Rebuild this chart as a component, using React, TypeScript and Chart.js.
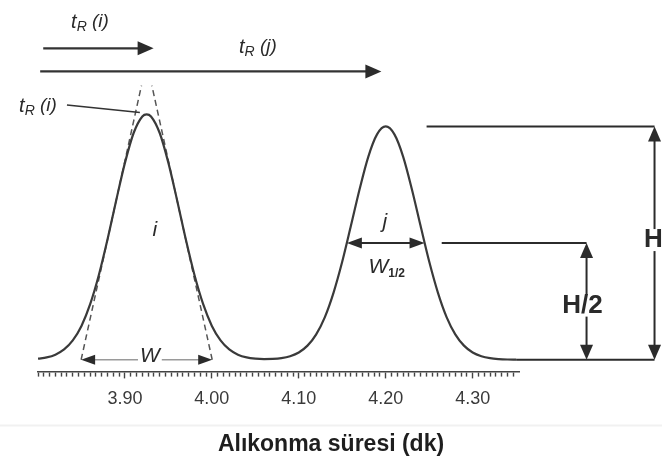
import React, { useEffect, useRef } from 'react';
import { Chart, registerables } from 'chart.js';

Chart.register(...registerables);

const FONT = '"Liberation Sans", Arial, Helvetica, sans-serif';

// Chromatogram (time in min, signal in arbitrary units, peak j = 100)
const TIME = [
  3.80, 3.81, 3.82, 3.83, 3.84, 3.85, 3.86, 3.87, 3.88, 3.89, 3.90, 3.91, 3.92, 3.925, 3.93,
  3.94, 3.95, 3.96, 3.97, 3.98, 3.99, 4.00, 4.01, 4.02, 4.03, 4.04, 4.05, 4.06, 4.07, 4.08,
  4.09, 4.10, 4.11, 4.12, 4.13, 4.14, 4.15, 4.16, 4.17, 4.18, 4.19, 4.20, 4.21, 4.22, 4.23,
  4.24, 4.25, 4.26, 4.27, 4.28, 4.29, 4.30, 4.31, 4.32, 4.33, 4.34, 4.35,
];
const SIGNAL = [
  0.43, 1.0, 2.18, 4.4, 8.28, 14.5, 23.8, 36.3, 51.6, 68.4, 84.4, 97.2, 104.3, 105.2, 104.3,
  97.2, 84.4, 68.4, 51.6, 36.3, 23.8, 14.5, 8.28, 4.4, 2.18, 1.0, 0.47, 0.28, 0.35, 0.7,
  1.52, 3.13, 6.05, 10.9, 18.3, 28.8, 42.1, 57.5, 73.2, 87.1, 96.6, 100, 96.6, 87.1, 73.2,
  57.5, 42.1, 28.8, 18.3, 10.9, 6.05, 3.13, 1.52, 0.68, 0.29, 0.11, 0.04,
];

const PEAK_TIMES = [3.925, 4.2];
const PEAK_HEIGHTS = [105.2, 100];
const HALF_HEIGHT = 50;
const HALF_WIDTH_TIMES = [4.1553, 4.2447];
const BASE_WIDTH_TIMES = [3.8496, 4.0004];
const TANGENT_LEFT_TIMES = [3.8496, 3.919];
const TANGENT_RIGHT_TIMES = [4.0004, 3.931];
const TANGENT_HEIGHTS = [0, 117.5];

const MAJOR_TICKS = [3.9, 4.0, 4.1, 4.2, 4.3];
const AXIS_MIN = 3.8;
const AXIS_MAX = 4.3533;
const MINOR_PER_MAJOR = 15;
const X_TITLE = 'Alıkonma süresi (dk)';

const isMajor = (v: number) => MAJOR_TICKS.some((m) => Math.abs(m - v) < 1e-6);

type Seg = [string, string, number];

function drawRich(ctx: CanvasRenderingContext2D, segs: Seg[], cx: number, cy: number, bg?: boolean, color = '#2a2a2a') {
  let w = 0;
  const widths = segs.map(([t, f]) => {
    ctx.font = f;
    const m = ctx.measureText(t).width;
    w += m;
    return m;
  });
  if (bg) {
    ctx.fillStyle = '#ffffff';
    ctx.fillRect(cx - w / 2 - 2, cy - 11, w + 4, 22);
  }
  let x = cx - w / 2;
  ctx.textAlign = 'left';
  ctx.textBaseline = 'middle';
  ctx.fillStyle = color;
  segs.forEach(([t, f, dy], i) => {
    ctx.font = f;
    ctx.fillText(t, x, cy + dy);
    x += widths[i];
  });
}

function head(ctx: CanvasRenderingContext2D, x: number, y: number, angle: number, len: number, half: number) {
  ctx.save();
  ctx.translate(x, y);
  ctx.rotate(angle);
  ctx.beginPath();
  ctx.moveTo(0, 0);
  ctx.lineTo(-len, -half);
  ctx.lineTo(-len, half);
  ctx.closePath();
  ctx.fill();
  ctx.restore();
}

function seg(ctx: CanvasRenderingContext2D, x1: number, y1: number, x2: number, y2: number) {
  ctx.beginPath();
  ctx.moveTo(x1, y1);
  ctx.lineTo(x2, y2);
  ctx.stroke();
}

const annotations = {
  id: 'annotations',
  afterDatasetsDraw(chart: any) {
    const { ctx } = chart;
    const xs = chart.scales.x;
    const ys = chart.scales.y;
    const X = (v: number) => xs.getPixelForValue(v);
    const Y = (v: number) => ys.getPixelForValue(v);
    const ink = '#2b2b2b';
    ctx.save();

    // faint separator above caption
    ctx.strokeStyle = '#f1f1f1';
    ctx.lineWidth = 2;
    seg(ctx, 0, 425.5, chart.width, 425.5);

    // caption
    drawRich(ctx, [[X_TITLE, `bold 23px ${FONT}`, 0]], chart.width / 2, 445, false, '#1e1e1e');

    ctx.strokeStyle = ink;
    ctx.fillStyle = ink;
    ctx.lineWidth = 2;

    const hX = 4.5092;
    const h2X = 4.431;
    // baseline extension
    seg(ctx, X(4.35), Y(0), X(hX), Y(0));
    // H reference line + arrow
    seg(ctx, X(4.247), Y(PEAK_HEIGHTS[1]), X(hX), Y(PEAK_HEIGHTS[1]));
    seg(ctx, X(hX), Y(PEAK_HEIGHTS[1]) + 4, X(hX), Y(0) - 4);
    head(ctx, X(hX), Y(PEAK_HEIGHTS[1]), -Math.PI / 2, 15, 6.5);
    head(ctx, X(hX), Y(0), Math.PI / 2, 15, 6.5);
    // H/2 line + arrow
    seg(ctx, X(4.2644), Y(HALF_HEIGHT), X(h2X), Y(HALF_HEIGHT));
    seg(ctx, X(h2X), Y(HALF_HEIGHT) + 4, X(h2X), Y(0) - 4);
    head(ctx, X(h2X), Y(HALF_HEIGHT), -Math.PI / 2, 15, 6.5);
    head(ctx, X(h2X), Y(0), Math.PI / 2, 15, 6.5);
    // W1/2 arrow
    seg(ctx, X(HALF_WIDTH_TIMES[0]) + 4, Y(HALF_HEIGHT), X(HALF_WIDTH_TIMES[1]) - 4, Y(HALF_HEIGHT));
    head(ctx, X(HALF_WIDTH_TIMES[0]), Y(HALF_HEIGHT), Math.PI, 15, 5.5);
    head(ctx, X(HALF_WIDTH_TIMES[1]), Y(HALF_HEIGHT), 0, 15, 5.5);
    // W arrow (grey)
    ctx.strokeStyle = '#9a9a9a';
    ctx.lineWidth = 1.5;
    seg(ctx, X(BASE_WIDTH_TIMES[0]) + 4, Y(0), X(BASE_WIDTH_TIMES[1]) - 4, Y(0));
    ctx.fillStyle = ink;
    head(ctx, X(BASE_WIDTH_TIMES[0]), Y(0), Math.PI, 14, 5);
    head(ctx, X(BASE_WIDTH_TIMES[1]), Y(0), 0, 14, 5);

    // retention time arrows at top
    ctx.strokeStyle = '#333';
    ctx.lineWidth = 2.2;
    seg(ctx, X(3.806), Y(133.5), X(3.933) - 6, Y(133.5));
    head(ctx, X(3.933), Y(133.5), 0, 16, 7);
    seg(ctx, X(3.8025), Y(123.6), X(4.195) - 6, Y(123.6));
    head(ctx, X(4.195), Y(123.6), 0, 16, 7);

    // leader line to peak i apex
    ctx.lineWidth = 1.5;
    seg(ctx, X(3.8333), Y(109.2), X(3.9172), Y(106));

    const it = (s: number) => `italic ${s}px ${FONT}`;
    const tR = (letter: string): Seg[] => [
      ['t', it(20), 0],
      ['R', it(14), 5],
      [' (', it(19), 0],
      [letter, it(19), 0],
      [')', it(19), 0],
    ];
    drawRich(ctx, tR('i'), X(3.8598), Y(144.7));
    drawRich(ctx, tR('j'), X(4.0529), Y(134));
    drawRich(ctx, tR('i'), X(3.8), Y(108.8));
    drawRich(ctx, [['i', it(21), 0]], X(3.9345), Y(55.6));
    drawRich(ctx, [['j', it(21), 0]], X(4.1989), Y(59));
    drawRich(ctx, [['W', it(21), 0], ['1/2', `bold 12px ${FONT}`, 6]], X(4.2011), Y(39.6));
    drawRich(ctx, [['W', it(21), 0]], X(3.9287), Y(1.5), true);
    drawRich(ctx, [['H/2', `bold 26px ${FONT}`, 0]], X(4.4264), Y(23.2), true);
    drawRich(ctx, [['H', `bold 26px ${FONT}`, 0]], X(4.508), Y(51.3), true);

    ctx.restore();
  },
};

export default function App() {
  const ref = useRef<HTMLCanvasElement | null>(null);

  useEffect(() => {
    if (!ref.current) return;
    const rulerTicks = Array.from(
      { length: Math.floor(((AXIS_MAX - AXIS_MIN) * MINOR_PER_MAJOR) / 0.1 + 1e-6) + 1 },
      (_, k) => +(AXIS_MIN + (k * 0.1) / MINOR_PER_MAJOR).toFixed(6)
    );
    const chart = new Chart(ref.current, {
      type: 'line',
      data: {
        datasets: [
          {
            data: TIME.map((t, i) => ({ x: t, y: SIGNAL[i] })),
            borderColor: '#3a3a3a',
            borderWidth: 2.2,
            pointRadius: 0,
            cubicInterpolationMode: 'monotone',
            fill: false,
          },
          {
            data: TANGENT_LEFT_TIMES.map((t, i) => ({ x: t, y: TANGENT_HEIGHTS[i] })),
            borderColor: '#555',
            borderWidth: 1.5,
            borderDash: [6, 4],
            pointRadius: 0,
          },
          {
            data: TANGENT_RIGHT_TIMES.map((t, i) => ({ x: t, y: TANGENT_HEIGHTS[i] })),
            borderColor: '#555',
            borderWidth: 1.5,
            borderDash: [6, 4],
            pointRadius: 0,
          },
        ],
      },
      options: {
        responsive: false,
        animation: false,
        events: [],
        layout: { padding: { left: 38, right: 143, top: 21.5, bottom: 51 } },
        plugins: { legend: { display: false }, tooltip: { enabled: false } },
        scales: {
          x: {
            type: 'linear',
            min: AXIS_MIN,
            max: AXIS_MAX,
            afterBuildTicks: (scale: any) => {
              scale.ticks = rulerTicks.map((v) => ({ value: v }));
            },
            ticks: {
              autoSkip: false,
              maxRotation: 0,
              minRotation: 0,
              padding: 10,
              color: '#3a3a3a',
              font: { family: FONT, size: 18 },
              callback: (v: any) => (isMajor(Number(v)) ? Number(v).toFixed(2) : ''),
            },
            grid: {
              drawOnChartArea: false,
              drawTicks: true,
              tickLength: 7,
              tickColor: '#444',
              tickWidth: 1.4,
              tickBorderDash: (c: any) => (c.tick && isMajor(c.tick.value) ? [] : [4, 30]),
            },
            border: { display: true, color: '#444', width: 1.6 },
            title: { display: false, text: X_TITLE },
          },
          y: {
            display: false,
            min: -5,
            max: 145,
          },
        },
      },
      plugins: [annotations],
    } as any);
    return () => chart.destroy();
  }, []);

  return (
    <div style={{ position: 'fixed', left: 0, top: 0, width: 662, height: 471, background: '#fff' }}>
      <canvas ref={ref} width={662} height={471} style={{ display: 'block' }} />
    </div>
  );
}
